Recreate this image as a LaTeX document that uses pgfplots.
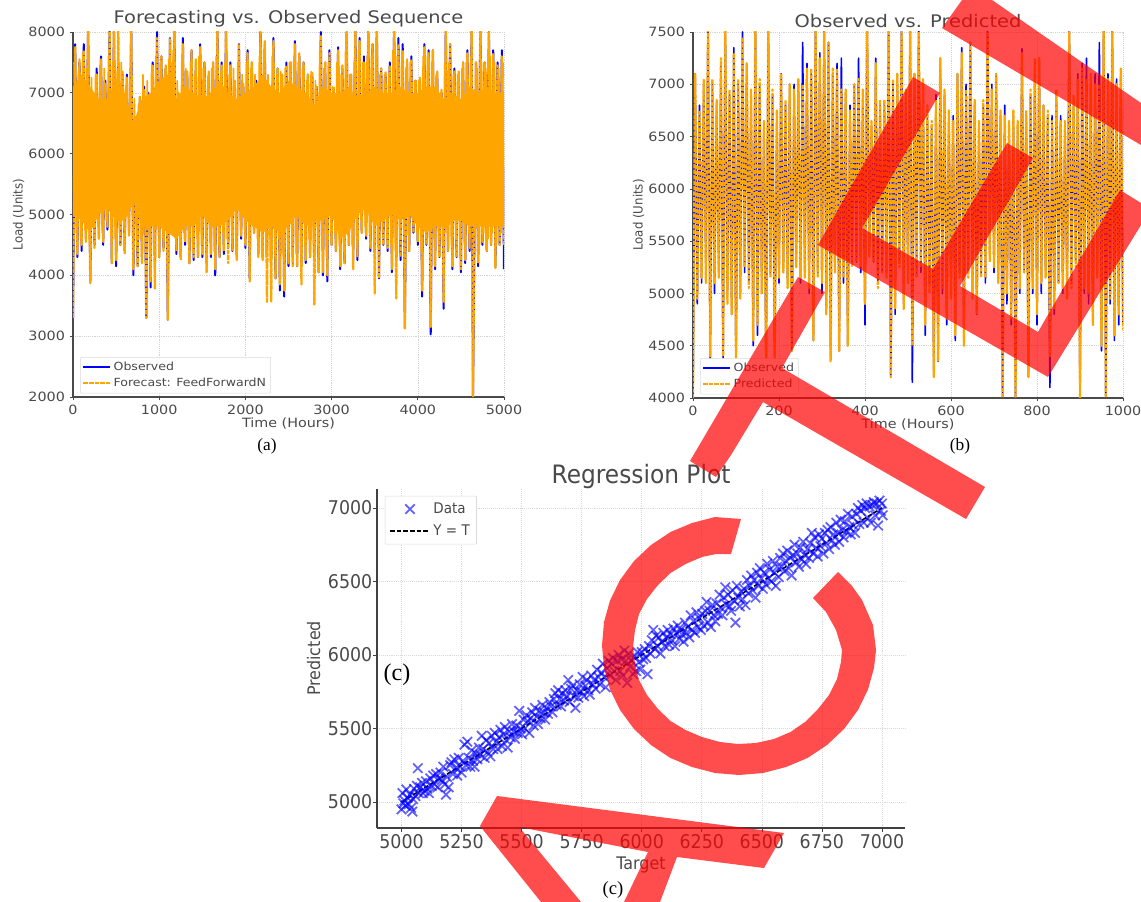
\documentclass[border=0pt]{standalone}
\usepackage{fontspec}
\usepackage{pgfplots}
\usepackage{pgfplotstable}
\pgfplotsset{compat=1.18}
\setmainfont{Liberation Serif}
\newfontfamily\dv[FakeStretch=1.12]{DejaVu Sans}
\newfontfamily\dvn[FakeStretch=0.92]{DejaVu Sans}
\definecolor{tx}{HTML}{4A4A4A}
\definecolor{org}{HTML}{FFA500}
\pgfplotstableread{
t obs pred
0 3300 3300
25 7800 7750
50 4300 4350
75 7500 7550
100 4400 4500
125 7800 7700
150 4600 4550
175 8100 8100
200 3900 3870
225 6900 7000
250 4500 4450
275 7400 7300
300 4650 4600
325 7600 7550
350 4500 4550
375 7200 7150
400 4750 4800
425 8100 8100
450 4200 4200
475 8100 8100
500 4150 4250
525 7500 8100
550 4500 4500
575 7300 7350
600 4400 4350
625 7300 7250
650 4700 4650
675 8100 8100
700 4000 4100
725 6500 6600
750 4150 4150
775 6900 6950
800 4300 4200
825 7100 7050
850 3300 3300
875 7000 6950
900 3800 3900
925 7500 7450
950 4100 3780
975 8000 7900
1000 4300 4300
1025 7600 7600
1050 4450 4400
1075 7400 7450
1100 3270 3270
1125 7900 7900
1150 4700 4700
1175 8100 8100
1200 4350 4400
1225 6900 7000
1250 4300 4250
1275 7900 7800
1300 4500 4550
1325 7300 7350
1350 4200 4200
1375 7700 7700
1400 4250 4300
1425 7500 7550
1450 4300 4300
1475 7800 7750
1500 4300 4350
1525 7500 7500
1550 4200 4050
1575 7300 7350
1600 4300 4350
1625 7500 7500
1650 4000 4100
1675 8100 8100
1700 4300 4300
1725 7500 7450
1750 4350 4400
1775 8100 8100
1800 4450 4200
1825 7500 7450
1850 4400 4400
1875 7100 7200
1900 4300 4250
1925 7800 7800
1950 4600 4650
1975 7100 7150
2000 4450 4500
2025 7700 7650
2050 3950 3900
2075 7500 7500
2100 4700 4700
2125 7200 7150
2150 4350 4300
2175 8000 8000
2200 4300 4250
2225 7800 7850
2250 4400 3550
2275 7100 7100
2300 4300 3570
2325 7900 7850
2350 3950 3950
2375 7400 7400
2400 3750 3850
2425 7300 7300
2450 3650 3750
2475 7500 7450
2500 4150 4200
2525 7500 7500
2550 4200 4150
2575 7850 7800
2600 4150 4150
2625 7600 7650
2650 4150 3850
2675 7500 7500
2700 4200 4250
2725 7300 7300
2750 4300 4300
2775 7300 7350
2800 4300 3520
2825 7100 7100
2850 4050 4050
2875 8000 7950
2900 4000 4050
2925 7500 7500
2950 3900 4000
2975 7700 7650
3000 4500 4500
3025 7000 7100
3050 4400 4400
3075 7750 7700
3100 4100 4150
3125 7400 7450
3150 4200 4200
3175 8000 8000
3200 4500 4500
3225 7300 7300
3250 4250 4100
3275 8100 8100
3300 4250 4300
3325 7900 7850
3350 4700 4700
3375 7600 7500
3400 4600 4650
3425 8000 8000
3450 4400 4450
3475 7800 7800
3500 4400 3700
3525 8100 8100
3550 3950 3950
3575 7400 7400
3600 4500 4500
3625 7300 7350
3650 4400 4450
3675 7500 7450
3700 4050 4100
3725 8100 8100
3750 4300 3620
3775 7900 7800
3800 4250 4300
3825 7800 7700
3850 3130 3130
3875 7500 7550
3900 4400 4400
3925 7600 7550
3950 4700 4700
3975 7200 7200
4000 4500 4550
4025 7200 7250
4050 3650 3750
4075 7800 7750
4100 4500 4500
4125 7700 7650
4150 3030 3150
4175 7700 7700
4200 4100 4150
4225 7300 7350
4250 4300 4300
4275 7000 7050
4300 3450 3550
4325 8100 8100
4350 4400 4400
4375 7800 7800
4400 4100 4150
4425 7400 7350
4450 4300 4300
4475 7250 7350
4500 4050 4100
4525 7500 7500
4550 4200 4250
4575 7700 7650
4600 4400 4450
4625 8100 8100
4640 2000 2000
4675 7500 7500
4700 4150 4200
4725 8100 8100
4750 4500 4550
4775 7500 7500
4800 4400 4400
4825 8000 8000
4850 4500 4500
4875 7700 7650
4900 4150 4120
4925 7500 7450
4950 4500 4500
4975 7700 7600
5000 4100 4500
}\tableA
\pgfplotstableread{
t obs pred
0 4000 4000
5 7100 7100
10 4900 4950
15 6800 6750
20 5100 5150
25 7000 7050
30 5200 5100
35 7600 7600
40 4300 4400
45 7000 7050
50 5000 5100
55 6800 6850
60 5200 5150
65 7200 7250
70 4350 4400
75 7600 7600
80 5000 4900
85 6900 6950
90 4800 4800
95 7350 7300
100 4300 4300
105 7000 7050
110 5000 4950
115 7500 7450
120 5200 5250
125 7200 7200
130 5100 5050
135 6900 6950
140 4500 4550
145 7600 7600
150 4600 4700
155 7000 7050
160 5000 5000
165 6600 6650
170 4200 4200
175 7600 7600
180 5200 5150
185 6900 6950
190 4350 4350
195 6700 6750
200 5100 5150
205 7100 7100
210 5200 5200
215 6800 6850
220 5100 5050
225 7000 7000
230 4450 4450
235 7000 6950
240 5300 5250
245 7000 7050
250 5100 5150
255 7400 7000
260 5200 5150
265 7200 7150
270 5000 5050
275 7100 7150
280 4550 4550
285 7600 7600
290 5200 5150
295 7300 7250
300 5000 5100
305 7600 7500
310 4850 4800
315 7400 7400
320 4400 4350
325 7100 7150
330 5200 5200
335 7200 7150
340 4450 4450
345 7250 6950
350 5100 5150
355 6900 6950
360 4500 4500
365 6800 6750
370 5300 5250
375 7000 7000
380 5300 5300
385 7250 7050
390 5200 5250
395 6900 6950
400 4700 4900
405 7600 7600
410 5400 5350
415 6600 6650
420 5300 5300
425 7250 7200
430 5100 5050
435 6800 6850
440 5200 5200
445 6800 6850
450 5200 5150
455 7600 7600
460 4200 4200
465 7000 7050
470 4800 4850
475 7100 7100
480 5300 5250
485 7600 7500
490 4900 4850
495 6900 6950
500 5100 5100
505 7600 7600
510 4150 4500
515 7100 7100
520 5200 5150
525 7600 7500
530 5200 5250
535 7000 7050
540 4600 4700
545 6700 6800
550 5100 5000
555 6600 6650
560 4250 4200
565 6900 6850
570 4350 4350
575 7250 7250
580 5000 5050
585 6900 6950
590 4700 4750
595 6700 6750
600 5000 4950
605 6700 6650
610 4550 4600
615 7100 7100
620 5200 5150
625 7350 7300
630 4550 4500
635 7000 6950
640 5200 5150
645 7400 7400
650 5000 4950
655 6800 6850
660 4800 4800
665 6600 6650
670 5200 5150
675 6800 6850
680 5100 5150
685 7600 7500
690 5400 5300
695 7000 6950
700 5200 5250
705 7100 7100
710 5200 5100
715 6700 6750
720 4000 4000
725 6800 6700
730 4900 5000
735 6600 6650
740 4700 4750
745 6700 6750
750 4000 4000
755 6600 6650
760 5000 5050
765 7340 7300
770 5200 5200
775 6700 6750
780 4200 4200
785 6900 6950
790 5000 5050
795 7200 7250
800 4700 4800
805 7250 7250
810 5000 5100
815 6800 6800
820 5200 5150
825 6700 6750
830 4100 4400
835 6700 6650
840 4800 4850
845 6900 6950
850 5100 5100
855 6700 6650
860 5000 5050
865 6600 6650
870 5000 4950
875 7600 7500
880 5100 5050
885 6800 6900
890 5300 5250
895 7100 7050
900 4000 4000
905 7200 7150
910 5000 5050
915 7250 7050
920 4900 5000
925 7000 7100
930 4700 4700
935 7100 7000
940 5200 5150
945 7400 7000
950 4450 4500
955 7600 7600
960 4000 4000
965 7100 7050
970 4900 4950
975 7600 7500
980 4550 4600
985 7050 7000
990 4700 4800
995 7150 7150
1000 4700 4650
}\tableB
\pgfplotstableread{
x y
5000 4950
5004 5060
5008 4990
5012 5010
5016 4975
5020 5085
5025 5030
5030 4985
5035 5050
5040 4960
5045 4935
5048 5020
5052 5090
5058 5040
5064 5110
5068 5230
5072 5060
5078 5100
5085 5130
5090 5060
5096 5075
5102 5140
5108 5090
5114 5060
5120 5160
5126 5110
5132 5180
5138 5120
5144 5190
5150 5100
5156 5160
5162 5200
5168 5150
5174 5240
5180 5120
5185 5050
5190 5170
5196 5100
5202 5250
5208 5270
5214 5190
5220 5290
5226 5230
5232 5180
5238 5300
5244 5240
5250 5200
5256 5280
5262 5390
5268 5250
5274 5410
5280 5300
5286 5240
5292 5350
5298 5280
5304 5240
5310 5330
5316 5290
5322 5370
5328 5320
5334 5450
5340 5360
5346 5300
5352 5420
5358 5340
5364 5400
5370 5310
5376 5450
5382 5360
5388 5470
5394 5410
5400 5360
5406 5440
5412 5490
5418 5380
5424 5460
5430 5510
5436 5420
5442 5370
5448 5480
5454 5440
5460 5530
5466 5480
5472 5430
5478 5520
5484 5470
5490 5620
5496 5500
5502 5460
5508 5560
5514 5500
5520 5590
5526 5550
5532 5470
5538 5570
5544 5610
5550 5520
5556 5640
5562 5580
5568 5530
5574 5620
5580 5570
5586 5660
5592 5610
5598 5560
5604 5640
5610 5600
5616 5680
5622 5650
5628 5610
5634 5700
5640 5740
5646 5660
5652 5760
5658 5700
5664 5650
5670 5740
5676 5690
5682 5760
5688 5720
5694 5830
5700 5680
5706 5770
5712 5790
5718 5720
5724 5640
5730 5760
5736 5710
5742 5800
5748 5750
5754 5850
5760 5720
5766 5790
5772 5830
5778 5760
5784 5730
5790 5860
5796 5800
5802 5830
5808 5770
5814 5900
5820 5850
5826 5800
5832 5880
5838 5940
5844 5850
5850 5780
5856 5910
5862 5960
5868 5860
5874 5940
5880 5980
5886 5890
5892 5830
5898 5960
5904 6000
5910 5890
5916 5970
5922 5860
5928 6030
5934 5960
5940 5810
5946 6010
5952 5920
5958 5960
5964 5870
5970 5990
5976 5890
5982 6020
5988 5950
5994 5900
6000 6020
6006 5970
6012 6040
6018 5980
6024 5870
6030 6060
6036 6010
6042 6100
6048 6170
6054 6040
6060 6130
6066 6060
6072 6120
6078 6010
6084 6090
6090 6150
6096 6060
6102 6120
6108 6170
6114 6070
6120 6140
6126 6100
6132 6180
6138 6060
6144 6150
6150 6200
6156 6110
6162 6170
6168 6140
6174 6090
6180 6220
6186 6150
6192 6190
6198 6120
6204 6270
6210 6170
6216 6230
6222 6150
6228 6290
6234 6190
6240 6250
6246 6170
6252 6280
6258 6200
6264 6300
6270 6360
6276 6220
6282 6300
6288 6190
6294 6340
6300 6270
6306 6230
6312 6350
6318 6280
6324 6410
6330 6320
6336 6270
6342 6390
6348 6460
6354 6340
6360 6410
6366 6330
6372 6300
6378 6440
6384 6370
6390 6220
6396 6470
6402 6390
6408 6330
6414 6430
6420 6380
6426 6450
6432 6340
6438 6510
6444 6420
6450 6470
6456 6540
6462 6440
6468 6510
6474 6390
6480 6560
6486 6470
6492 6590
6498 6520
6504 6450
6510 6560
6516 6480
6522 6620
6528 6520
6534 6580
6540 6500
6546 6640
6552 6560
6558 6470
6564 6600
6570 6530
6576 6660
6582 6600
6588 6690
6594 6570
6600 6640
6606 6710
6612 6590
6618 6660
6624 6540
6630 6680
6636 6750
6642 6630
6648 6690
6654 6600
6660 6730
6666 6650
6672 6770
6678 6680
6684 6620
6690 6720
6696 6660
6702 6760
6708 6830
6714 6690
6720 6800
6726 6730
6732 6670
6738 6820
6744 6740
6750 6790
6756 6690
6762 6830
6768 6760
6774 6850
6780 6720
6786 6870
6792 6780
6798 6820
6804 6750
6810 6900
6816 6830
6822 6770
6828 6920
6834 6850
6840 6800
6846 6910
6852 6840
6858 6960
6864 6870
6870 6820
6876 6940
6882 6880
6888 6830
6894 6960
6900 7000
6906 6890
6912 6980
6918 7020
6924 6900
6930 7000
6936 7030
6942 6930
6948 7010
6954 6900
6960 7020
6966 7040
6972 6950
6978 7030
6984 6880
6990 7050
6995 6980
7000 7030
7003 6950
}\tableC
\pgfplotsset{
  panel/.style={
    scale only axis,
    anchor=south west,
    axis lines=left,
    axis line style={-,draw=tx,line width=1.1pt},
    tick align=outside,
    tick style={draw=tx,line width=.5pt},
    major tick length=2.5pt,
    xtick pos=bottom,
    ytick pos=left,
    grid=major,
    grid style={densely dotted,gray!35,line width=.45pt},
    scaled ticks=false,
    /pgf/number format/.cd,1000 sep={},assume math mode=true,/tikz/.cd,
    x tick label style={text=tx},
    y tick label style={text=tx},
    x label style={text=tx},
    y label style={text=tx},
    title style={text=tx},
  },
  small/.style={
    panel,
    ticklabel style={font=\dv\fontsize{9.6pt}{10pt}\selectfont},
    x label style={font=\dv\fontsize{9.6pt}{10pt}\selectfont,at={(axis description cs:0.5,0)},yshift=-12pt,anchor=north},
    y label style={font=\dvn\fontsize{9.6pt}{10pt}\selectfont,at={(axis description cs:0,0.5)},yshift=33pt,anchor=south},
    title style={font=\dv\fontsize{13pt}{14pt}\selectfont,yshift=-6pt},
    legend cell align=left,
    legend style={draw=gray!30,rounded corners=.5pt,text=tx,font=\dv\fontsize{8.4pt}{9pt}\selectfont,inner sep=1.5pt,row sep=0pt},
    legend image code/.code={\draw[##1,line width=1.3pt,dash phase=0pt] (0pt,0pt)--(20pt,0pt);},
  },
}
\begin{document}
\begin{tikzpicture}
\useasboundingbox (0pt,0pt) rectangle (855.75pt,676.5pt);
\begin{axis}[small,at={(54.75pt,378.75pt)},width=323.25pt,height=273.75pt,
  xmin=0,xmax=5000,ymin=2000,ymax=8000,
  xtick={0,1000,...,5000},ytick={2000,3000,...,8000},
  title={Forecasting vs. Observed Sequence},xlabel={Time (Hours)},ylabel={Load (Units)},
  legend style={at={(0.017,0.01)},anchor=south west}]
\addplot[blue,line width=1.5pt,line join=round] table[x=t,y=obs] {\tableA};
\addlegendentry{Observed}
\addplot[org,line width=1.7pt,line join=round,dash pattern=on 3.5pt off 0.7pt] table[x=t,y=pred] {\tableA};
\addlegendentry{Forecast: FeedForwardN}
\addplot[org,line width=1.2pt,line join=round,forget plot] coordinates {(12,7500)(38,4700)(62,7350)(88,4600)(112,7650)(138,4750)(160,7400)(190,4500)(214,7250)(240,4900)(262,7300)(288,4850)(312,7450)(338,4700)(362,7400)(386,4900)(412,7600)(440,4650)(462,7500)(490,4600)(512,7350)(538,4700)(560,7500)(588,4800)(610,7100)(640,4950)(660,7200)(690,5000)(712,6900)(738,4500)(760,6800)(790,4600)(812,7300)(838,4700)(862,7200)(888,4400)(912,7400)(940,4500)(960,7600)(988,4750)(1012,7500)(1040,4700)(1062,7300)(1088,4650)(1110,7550)(1138,4800)(1162,7700)(1188,4600)(1210,7200)(1240,4500)(1262,7500)(1288,4700)(1310,7400)(1340,4500)(1362,7500)(1388,4400)(1410,7300)(1440,4600)(1462,7600)(1490,4500)(1510,7400)(1540,4700)(1562,7200)(1590,4600)(1610,7400)(1640,4400)(1662,7600)(1690,4500)(1712,7300)(1740,4700)(1762,7500)(1790,4600)(1812,7300)(1840,4750)(1862,7400)(1890,4500)(1912,7500)(1940,4900)(1962,7300)(1990,4750)(2012,7500)(2040,4600)(2062,7400)(2090,4800)(2112,7300)(2140,4600)(2162,7600)(2190,4400)(2212,7700)(2240,4300)(2262,7300)(2290,4200)(2312,7600)(2340,4400)(2362,7300)(2390,4600)(2412,7350)(2440,4300)(2462,7400)(2490,4500)(2512,7500)(2540,4600)(2562,7600)(2590,4350)(2612,7500)(2640,4400)(2662,7400)(2690,4500)(2712,7200)(2740,4600)(2762,7350)(2790,4500)(2812,7200)(2840,4500)(2862,7700)(2890,4400)(2912,7400)(2940,4300)(2962,7500)(2990,4700)(3012,7100)(3040,4700)(3062,7500)(3090,4500)(3112,7300)(3140,4400)(3162,7700)(3190,4700)(3212,7300)(3240,4500)(3262,7500)(3290,4600)(3312,7700)(3340,4900)(3362,7500)(3390,4800)(3412,7600)(3440,4700)(3462,7600)(3490,4600)(3512,7700)(3540,4500)(3562,7300)(3590,4700)(3612,7300)(3640,4600)(3662,7300)(3690,4500)(3712,7700)(3740,4400)(3762,7600)(3790,4600)(3812,7500)(3840,4700)(3862,7400)(3890,4650)(3912,7500)(3940,4900)(3962,7200)(3990,4700)(4012,7200)(4040,4400)(4062,7600)(4090,4700)(4112,7600)(4140,4500)(4162,7500)(4190,4600)(4212,7300)(4240,4500)(4262,7000)(4290,4500)(4312,7500)(4340,4700)(4362,7500)(4390,4500)(4412,7300)(4440,4600)(4462,7300)(4490,4300)(4512,7400)(4540,4500)(4562,7500)(4590,4700)(4612,7500)(4660,4650)(4690,7400)(4715,4500)(4740,7500)(4765,4700)(4790,7400)(4815,4600)(4840,7600)(4865,4700)(4890,7500)(4915,4500)(4940,7400)(4965,4700)(4990,7500)};
\addplot[fill=org,draw=none,forget plot] coordinates {(0,7100)(100,7300)(200,7100)(300,6900)(400,6900)(500,7200)(600,7000)(700,6500)(800,6900)(900,7000)(1000,7200)(1100,7300)(1200,6900)(1300,7100)(1400,7000)(1500,6900)(1600,7000)(1700,7200)(1800,7000)(1900,6900)(2000,7000)(2100,7100)(2200,7300)(2300,7100)(2400,7000)(2500,7200)(2600,7100)(2700,7000)(2800,6800)(2900,7100)(3000,7000)(3100,7000)(3200,7100)(3300,6900)(3400,7000)(3500,7100)(3600,7000)(3700,7000)(3800,7100)(3900,7000)(4000,7000)(4100,7100)(4200,7100)(4300,6900)(4400,7000)(4500,6900)(4600,7100)(4700,7000)(4800,7100)(4900,7000)(5000,7000)
(5000,4800)(4900,4800)(4800,4800)(4700,4800)(4600,4800)(4500,4900)(4400,4900)(4300,4800)(4200,4800)(4100,4700)(4000,4800)(3900,5000)(3800,4900)(3700,5000)(3600,4900)(3500,4800)(3400,5100)(3300,5000)(3200,4700)(3100,4600)(3000,5000)(2900,4900)(2800,4900)(2700,4800)(2600,5000)(2500,4800)(2400,4700)(2300,4800)(2200,4700)(2100,4800)(2000,4900)(1900,5100)(1800,4900)(1700,4800)(1600,4800)(1500,5000)(1400,4800)(1300,4800)(1200,4600)(1100,4700)(1000,4800)(900,4800)(800,4800)(700,5200)(600,4900)(500,4900)(400,5100)(300,5000)(200,4700)(100,4900)(0,5000)} --cycle;
\end{axis}
\begin{axis}[small,at={(519.75pt,378pt)},width=322.5pt,height=274.5pt,
  xmin=0,xmax=1000,ymin=4000,ymax=7500,
  xtick={0,200,...,1000},ytick={4000,4500,...,7500},
  title={Observed vs. Predicted},xlabel={Time (Hours)},ylabel={Load (Units)},
  legend style={at={(0.017,0.01)},anchor=south west}]
\addplot[blue,line width=1.2pt,line join=round] table[x=t,y=obs] {\tableB};
\addlegendentry{Observed}
\addplot[org,line width=1.7pt,line join=round,dash pattern=on 3.2pt off 0.9pt] table[x=t,y=pred] {\tableB};
\addlegendentry{Predicted}
\end{axis}
\begin{axis}[panel,at={(282.75pt,55.5pt)},width=396pt,height=254.25pt,
  xmin=4898,xmax=7096,ymin=4823,ymax=7129,
  xtick={5000,5250,...,7000},ytick={5000,5500,...,7000},
  grid style={densely dotted,gray!30,line width=.5pt},
  axis line style={-,draw=black!75,line width=.8pt},
  tick style={draw=black!75},
  major tick length=3pt,
  ticklabel style={font=\dvn\fontsize{14.2pt}{15pt}\selectfont},
  x tick label style={yshift=2pt},
  y tick label style={xshift=3pt},
  x label style={font=\dvn\fontsize{13pt}{14pt}\selectfont,at={(axis description cs:0.5,0)},yshift=-18pt,anchor=north},
  y label style={font=\dvn\fontsize{13pt}{14pt}\selectfont,at={(axis description cs:0,0.5)},yshift=39pt,anchor=south},
  title style={font=\dvn\fontsize{19pt}{20pt}\selectfont,yshift=-9pt},
  title={Regression Plot},xlabel={Target},ylabel={Predicted},
  legend cell align=left,
  legend image code/.code={\draw[mark repeat=2,mark phase=2,#1] plot coordinates {(0pt,0pt)(15pt,0pt)(30pt,0pt)};},
  legend style={at={(0.015,0.98)},anchor=north west,draw=gray!30,rounded corners=.5pt,text=tx,font=\dvn\fontsize{11pt}{12pt}\selectfont,inner sep=3pt,row sep=3pt},
  ]
\addplot[only marks,mark=x,mark size=5pt,blue,opacity=.62,mark options={line width=1.3pt}] table[x=x,y=y] {\tableC};
\addlegendentry{Data}
\addplot[black,line width=1.2pt,dash pattern=on 3.5pt off 1.5pt] coordinates {(5000,5000)(7000,7000)};
\addlegendentry{Y = T}
\end{axis}
\begin{axis}[scale only axis,anchor=south west,at={(0pt,0pt)},width=855.75pt,height=676.5pt,
  xmin=0,xmax=1141,ymin=0,ymax=902,y dir=reverse,hide axis,clip=true]
\node[font=\fontsize{13pt}{14pt}\selectfont] at (axis cs:267,446) {(a)};
\node[font=\fontsize{13pt}{14pt}\selectfont] at (axis cs:960,446) {(b)};
\node[font=\fontsize{18pt}{19pt}\selectfont] at (axis cs:397,675) {(c)};
\node[font=\fontsize{14pt}{15pt}\selectfont] at (axis cs:613,890) {(c)};
\addplot[draw=none,fill=red,fill opacity=.7] coordinates {(942,28)(962,0)(992,0)(1141,103)(1141,145)} --cycle;
\addplot[draw=none,fill=red,fill opacity=.7] coordinates {(913,77)(940,93)(862,228)(933,269)(1007,143)(1033,158)(960,286)(1038,332)(1120,190)(1141,203)(1141,225)(1048,377)(818,245)} --cycle;
\addplot[draw=none,fill=red,fill opacity=.7] coordinates {(798,277)(825,292)(782,368)(985,487)(966,519)(763,402)(731,455)(716,477)(690,461)} --cycle;
\addplot[draw=none,fill=red,fill opacity=.7] coordinates {(497,796)(784,833)(764,868)(677,857)(660,902)(624,902)(648,852)(519,827)(581,902)(541,902)(480,826)} --cycle;
\addplot[draw=none,fill=red,fill opacity=.7] coordinates {(741,519)(715,517)(692,523)(670.5,532)(651,545)(634,561)(620,580)(610,600.5)(604,622)(602,645)(604,668)(610,689.5)(620,710)(634,729)(651,745)(670.5,758)(692,767)(715,773)(739,775)(763,773)(786,767)(807.5,758)(827,745)(844,729)(858,710)(868,689.5)(874,668)(876,650)(873,625)(862,600)(852,586)(838,572)(813,598)(826,612)(836,630)(842,650)(841,662)(837,679)(829,695)(818,709)(805,722)(790.5,732)(774,739)(756,743)(738,744)(720,742)(702,737)(685.5,730)(670.5,721)(658,709)(647,695)(639,680)(635,664)(633,647)(635,630)(639,614)(647,599)(658,585)(670.5,573)(685.5,564)(702,557)(716,554)(731,554)} --cycle;
\end{axis}
\end{tikzpicture}
\end{document}
